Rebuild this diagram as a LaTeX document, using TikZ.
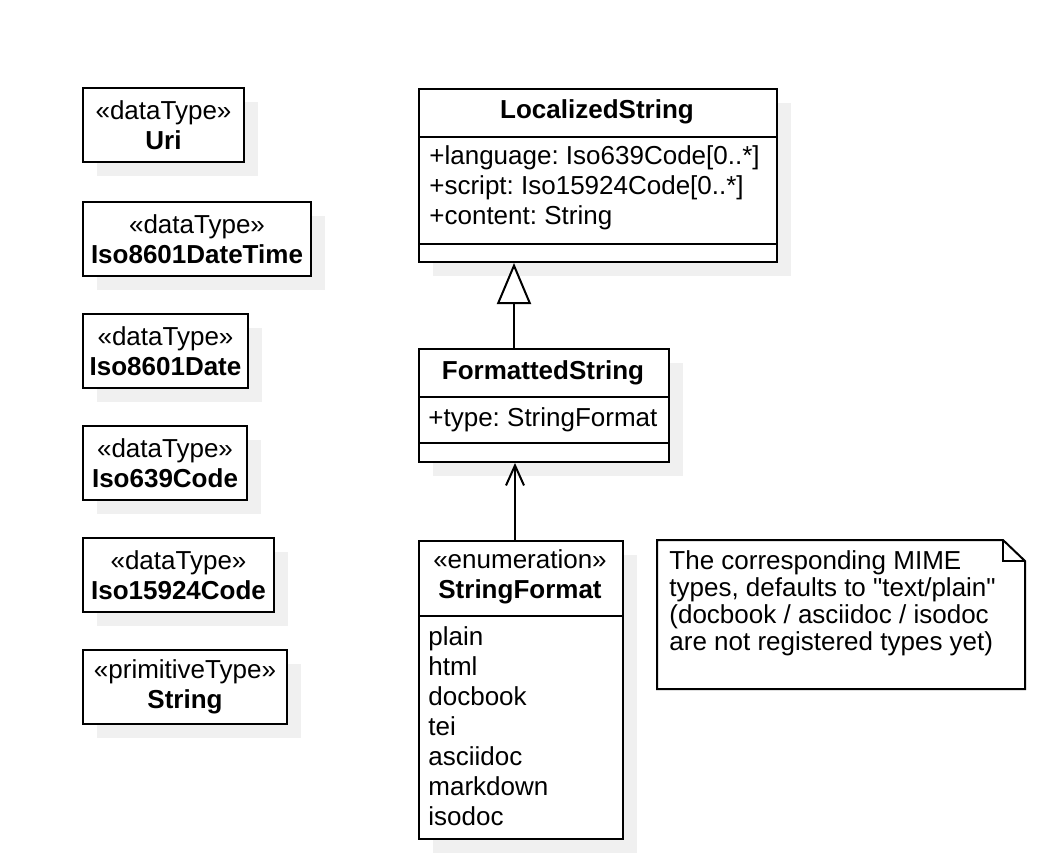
\documentclass[tikz,border=0pt]{standalone}
\usepackage{fontspec}
\setmainfont{Liberation Sans}[Ligatures=TeXOff]
\frenchspacing
\usetikzlibrary{arrows.meta,shadows,calc}

\begin{document}
\begin{tikzpicture}[x=0.5pt, y=-0.5pt,
  box/.style={draw, line width=1pt, fill=white, anchor=north west, inner sep=0pt,
    general shadow={fill=black!6, shadow xshift=7pt, shadow yshift=-7pt}},
  txt/.style={inner sep=0pt, font=\fontsize{13}{15}\selectfont},
  sep/.style={line width=1pt},
  gen/.style={-{Triangle[open, fill=white, length=20.5pt, width=17pt]}, line width=1pt},
  dep/.style={-{Straight Barb[length=10pt, width=9pt]}, line width=1pt}]
\useasboundingbox (0,0) rectangle (1044,852);
\foreach \n/\y/\w/\st/\lab in {uri/87/161/dataType/Uri, dtime/201/228/dataType/Iso8601DateTime,
    date/313/165/dataType/Iso8601Date, lang/425/164/dataType/Iso639Code,
    script/537/191/dataType/Iso15924Code, str/649/204/primitiveType/String}
  \node[box, txt, align=center, minimum width=\w*0.5pt, minimum height=37pt] (\n) at (82,\y) {«\st»\\\textbf{\lab}};

\node[box, minimum width=179pt, minimum height=86.5pt] (ls) at (418,88) {};
\node[txt] (lsname) at (597,112) {\textbf{LocalizedString}};
\draw[sep] (ls.west |- 0,137) -- (ls.east |- 0,137);
\draw[sep] (ls.west |- 0,244) -- (ls.east |- 0,244);
\node[txt, anchor=west, align=left] (lsattr) at (429,188) {+language: Iso639Code[0..*]\\+script: Iso15924Code[0..*]\\+content: String};

\node[box, minimum width=125pt, minimum height=56.5pt] (fs) at (418,348) {};
\node[txt] (fsname) at (543,373) {\textbf{FormattedString}};
\draw[sep] (fs.west |- 0,397) -- (fs.east |- 0,397);
\draw[sep] (fs.west |- 0,443) -- (fs.east |- 0,443);
\node[txt, anchor=west] (fsattr) at (428,420) {+type: StringFormat};

\node[box, minimum width=102pt, minimum height=149pt] (sf) at (418,540) {};
\node[txt, align=center] (sfname) at (520,577) {«enumeration»\\\textbf{StringFormat}};
\draw[sep] (sf.west |- 0,616) -- (sf.east |- 0,616);
\node[txt, anchor=west, align=left] (sflit) at (428,726) {plain\\html\\docbook\\tei\\asciidoc\\markdown\\isodoc};

\draw[line width=1pt, fill=white] (657,540) -- (1003,540) -- (1025,561) -- (1025,689) -- (657,689) -- cycle;
\draw[line width=1pt] (1003,540) -- (1003,561) -- (1025,561);
\node[txt, anchor=west, align=left, font=\fontsize{13}{13.5}\selectfont] (note) at (669,603)
  {The corresponding MIME\\types, defaults to "text/plain"\\(docbook / asciidoc / isodoc\\are not registered types yet)};

\coordinate (genfoot) at ([xshift=48pt]fs.north west);
\draw[gen] (genfoot) -- (genfoot |- ls.south);
\coordinate (depfoot) at ([xshift=-3pt]sf.north);
\draw[dep] (depfoot) -- (depfoot |- fs.south);
\end{tikzpicture}
\end{document}
